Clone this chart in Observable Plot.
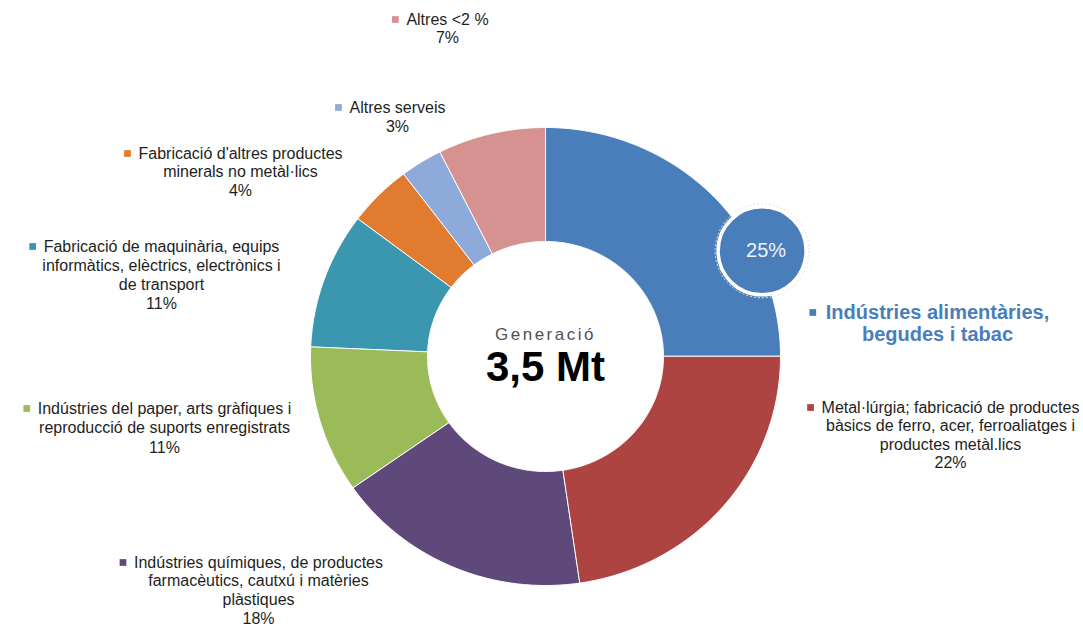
<!DOCTYPE html>
<html><head><meta charset="utf-8">
<script src="https://cdn.jsdelivr.net/npm/d3@7"></script>
<script src="https://cdn.jsdelivr.net/npm/@observablehq/plot@0.6"></script>
<style>
html,body{margin:0;padding:0;background:#fff;}
#chart{width:1083px;height:628px;overflow:hidden;}
</style></head><body><div id="chart"></div>
<script>
// ---------- DATA ----------
const categories = [
  "Indústries alimentàries, begudes i tabac",
  "Metal·lúrgia; fabricació de productes bàsics de ferro, acer, ferroaliatges i productes metàl.lics",
  "Indústries químiques, de productes farmacèutics, cautxú i matèries plàstiques",
  "Indústries del paper, arts gràfiques i reproducció de suports enregistrats",
  "Fabricació de maquinària, equips informàtics, elèctrics, electrònics i de transport",
  "Fabricació d'altres productes minerals no metàl·lics",
  "Altres serveis",
  "Altres <2 %"
];
const labelLines = [
  ["Indústries alimentàries,", "begudes i tabac"],
  ["Metal·lúrgia; fabricació de productes", "bàsics de ferro, acer, ferroaliatges i", "productes metàl.lics"],
  ["Indústries químiques, de productes", "farmacèutics, cautxú i matèries", "plàstiques"],
  ["Indústries del paper, arts gràfiques i", "reproducció de suports enregistrats"],
  ["Fabricació de maquinària, equips", "informàtics, elèctrics, electrònics i", "de transport"],
  ["Fabricació d'altres productes", "minerals no metàl·lics"],
  ["Altres serveis"],
  ["Altres <2 %"]
];
const shares = [25, 22.7, 17.6, 10.4, 9.6, 4.4, 2.9, 7.4];
const percentLabels = ["25%", "22%", "18%", "11%", "11%", "4%", "3%", "7%"];
const colors = ["#4a7ebb", "#ad4441", "#5f497a", "#9bbb59", "#3b97b0", "#e07b30", "#8eaadb", "#d69291"];
const centerTitle = "Generació";
const centerValue = "3,5 Mt";

// ---------- LAYOUT ----------
const W = 1083, H = 628;
const CX = 545, CY = 356;          // donut centre (page px)
const RX = 235, RY = 229;          // outer radii
const IRX = 118, IRY = 115;        // inner radii
const FONT = "'Liberation Sans', Arial, sans-serif";
// label anchors: centre x, first-line y, line spacing (page px)
const labelLayout = [
  {cx: 937, y: 312, dy: 22},
  {cx: 950, y: 407, dy: 18.5},
  {cx: 258, y: 562, dy: 18.7},
  {cx: 164, y: 408, dy: 19.5},
  {cx: 161, y: 246, dy: 19},
  {cx: 240, y: 153, dy: 18.5},
  {cx: 397, y: 107, dy: 19},
  {cx: 447, y: 19, dy: 18}
];
const calloutAngle = 64, calloutRadius = 241;

// ---------- BUILD ----------
const px = x => x - CX, py = y => CY - y;
const total = d3.sum(shares);
const slicePts = [];
let acc = 0;
shares.forEach((v, i) => {
  const a0 = acc / total * 2 * Math.PI;
  acc += v;
  const a1 = acc / total * 2 * Math.PI;
  const n = Math.max(8, Math.ceil((a1 - a0) / 0.01));
  for (let k = 0; k <= n; k++) {
    const a = a0 + (a1 - a0) * k / n;
    slicePts.push({cat: categories[i], color: colors[i], x: RX * Math.sin(a), y: RY * Math.cos(a)});
  }
  for (let k = n; k >= 0; k--) {
    const a = a0 + (a1 - a0) * k / n;
    slicePts.push({cat: categories[i], color: colors[i], x: IRX * Math.sin(a), y: IRY * Math.cos(a)});
  }
});

const ctx = document.createElement("canvas").getContext("2d");
function measure(t, font) { ctx.font = font; return ctx.measureText(t).width; }

const textRows = [], boldRows = [], squares = [];
labelLines.forEach((lines, i) => {
  const L = labelLayout[i];
  const isMain = i === 0;
  const all = isMain ? lines : lines.concat([percentLabels[i]]);
  all.forEach((t, k) => {
    (isMain ? boldRows : textRows).push({x: px(L.cx), y: py(L.y + k * L.dy), text: t});
  });
  const w = measure(lines[0], (isMain ? "bold 20px " : "16px ") + FONT);
  squares.push({x: px(L.cx - w / 2 - (isMain ? 13 : 11)), y: py(L.y), color: colors[i]});
});

const ca = calloutAngle * Math.PI / 180;
const callout = [{x: calloutRadius * Math.sin(ca), y: calloutRadius * Math.cos(ca), text: percentLabels[0]}];

const chart = Plot.plot({
  width: W, height: H, margin: 0,
  x: {axis: null, domain: [-CX, W - CX]},
  y: {axis: null, domain: [-(H - CY), CY]},
  color: {type: "identity"},
  style: {fontFamily: FONT, background: "white"},
  marks: [
    Plot.line(slicePts, {x: "x", y: "y", z: "cat", fill: "color", stroke: "white", strokeWidth: 1, curve: "linear-closed"}),
    Plot.dot(callout, {x: "x", y: "y", r: 47, fill: "none", stroke: "#e2e2e2", strokeDasharray: "2,2", strokeWidth: 1}),
    Plot.dot(callout, {x: "x", y: "y", r: 44, fill: colors[0], stroke: "white", strokeWidth: 3.5}),
    Plot.text(callout, {x: "x", y: "y", dx: 4, text: "text", fill: "#eef3fa", fontSize: 20, lineAnchor: "middle"}),
    Plot.dot(squares, {x: "x", y: "y", fill: "color", symbol: "square", r: 3.8}),
    Plot.text(textRows, {x: "x", y: "y", text: "text", fill: "#1e1e1e", fontSize: 16, textAnchor: "middle", lineAnchor: "middle"}),
    Plot.text(boldRows, {x: "x", y: "y", text: "text", fill: colors[0], fontSize: 20, fontWeight: "bold", textAnchor: "middle", lineAnchor: "middle"}),
    Plot.text([{x: 0, y: py(334), text: centerTitle}], {x: "x", y: "y", text: "text", fill: "#505050", fontSize: 17, textAnchor: "middle", lineAnchor: "middle"}),
    Plot.text([{x: 0, y: py(367), text: centerValue}], {x: "x", y: "y", text: "text", fill: "#000", fontSize: 42, fontWeight: "bold", textAnchor: "middle", lineAnchor: "middle"})
  ]
});
document.getElementById("chart").appendChild(chart);
d3.select(chart).selectAll("text").filter(function() { return this.textContent === centerTitle; })
  .attr("letter-spacing", "2.5px");
</script>
</body></html>
